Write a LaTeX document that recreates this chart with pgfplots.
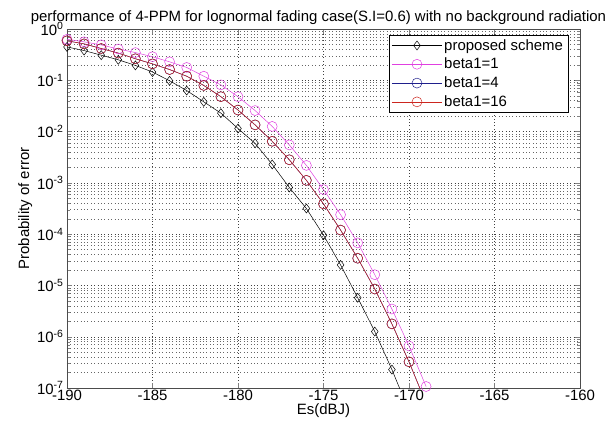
\documentclass[border=0pt]{standalone}
\usepackage{fontspec}
\setmainfont{Liberation Sans}
\usepackage{pgfplots}
\pgfplotsset{compat=1.18}
\newcommand\mf{\fontsize{15}{17}\selectfont}
\definecolor{mmag}{rgb}{0.88,0.25,0.88}
\definecolor{mblue}{rgb}{0.12,0.12,0.55}
\definecolor{mred}{rgb}{0.8,0.15,0.12}
\begin{document}
\begin{tikzpicture}
\useasboundingbox (-67bp,-39bp) rectangle (549bp,388bp);
\begin{axis}[
  at={(0,0)}, anchor=south west,
  scale only axis, width=513bp, height=359bp,
  xmin=-190, xmax=-160, ymin=1e-7, ymax=1, ymode=log,
  xtick={-190,-185,...,-160},
  ytick={1e-7,1e-6,1e-5,1e-4,1e-3,1e-2,1e-1,1},
  yticklabels={10\textsuperscript{-7},10\textsuperscript{-6},10\textsuperscript{-5},10\textsuperscript{-4},10\textsuperscript{-3},10\textsuperscript{-2},10\textsuperscript{-1},10\textsuperscript{0}},
  minor ytick={2e-7,3e-7,4e-7,5e-7,6e-7,7e-7,8e-7,9e-7,
               2e-6,3e-6,4e-6,5e-6,6e-6,7e-6,8e-6,9e-6,
               2e-5,3e-5,4e-5,5e-5,6e-5,7e-5,8e-5,9e-5,
               2e-4,3e-4,4e-4,5e-4,6e-4,7e-4,8e-4,9e-4,
               2e-3,3e-3,4e-3,5e-3,6e-3,7e-3,8e-3,9e-3,
               2e-2,3e-2,4e-2,5e-2,6e-2,7e-2,8e-2,9e-2,
               0.2,0.3,0.4,0.5,0.6,0.7,0.8,0.9},
  /pgf/number format/assume math mode=true,
  tick label style={font=\mf},
  xticklabel style={yshift=1bp},
  xtick pos=both, ytick pos=both,
  tick align=inside,
  major tick length=5bp, minor tick length=3bp,
  grid=both,
  major grid style={black!75, line width=0.4bp, dash pattern=on 0.8bp off 2.6bp},
  minor grid style={black!60, line width=0.4bp, dash pattern=on 0.8bp off 2.6bp},
  axis line style={black!70, line width=0.6bp},
  title={performance of 4-PPM for lognormal fading case(S.I=0.6) with no background radiation},
  title style={font=\mf, yshift=-5bp, xshift=-5bp},
  xlabel={Es(dBJ)}, ylabel={Probability of error},
  label style={font=\mf},
  xlabel style={yshift=4bp},
  ylabel style={yshift=-2bp},
  legend style={at={(0.977,0.983)}, anchor=north east, draw=black, fill=white,
    font=\mf, row sep=2.5bp, inner xsep=3bp, inner ysep=2bp},
  legend cell align=left,
  legend image code/.code={\draw[mark repeat=2,mark phase=2,#1] plot coordinates {(0bp,0bp) (25bp,0bp) (50bp,0bp)};},
]
\addplot[black, line width=0.5bp, mark=diamond, mark size=4.5bp] coordinates {
(-190,0.447) (-189,0.380) (-188,0.309) (-187,0.251) (-186,0.195) (-185,0.145)
(-184,0.0977) (-183,0.0631) (-182,0.0380) (-181,0.0229) (-180,0.01148)
(-179,5.89e-3) (-178,2.29e-3) (-177,8.13e-4) (-176,3.16e-4) (-175,9.55e-5)
(-174,2.51e-5) (-173,5.75e-6) (-172,1.26e-6) (-171,2.29e-7) (-170,3.55e-8)};
\addlegendentry{proposed scheme}
\addplot[mmag, line width=0.5bp, mark=o, mark size=5bp] coordinates {
(-190,0.631) (-189,0.562) (-188,0.490) (-187,0.407) (-186,0.347) (-185,0.288)
(-184,0.229) (-183,0.178) (-182,0.120) (-181,0.0813) (-180,0.0479)
(-179,0.0257) (-178,0.0126) (-177,5.50e-3) (-176,2.19e-3) (-175,7.41e-4)
(-174,2.40e-4) (-173,6.76e-5) (-172,1.62e-5) (-171,3.47e-6) (-170,6.61e-7) (-169,1.07e-7)};
\addlegendentry{beta1=1}
\addplot[mblue, line width=0.5bp, mark=o, mark size=5bp] coordinates {
(-190,0.589) (-189,0.513) (-188,0.417) (-187,0.339) (-186,0.263) (-185,0.209)
(-184,0.162) (-183,0.120) (-182,0.0794) (-181,0.0479) (-180,0.0263)
(-179,0.0135) (-178,6.46e-3) (-177,2.82e-3) (-176,1.12e-3) (-175,3.89e-4)
(-174,1.20e-4) (-173,3.39e-5) (-172,8.51e-6) (-171,1.78e-6) (-170,3.24e-7) (-169,5.0e-8)};
\addlegendentry{beta1=4}
\addplot[mred, line width=0.5bp, mark=o, mark size=5bp] coordinates {
(-190,0.589) (-189,0.513) (-188,0.417) (-187,0.339) (-186,0.263) (-185,0.209)
(-184,0.162) (-183,0.120) (-182,0.0794) (-181,0.0479) (-180,0.0263)
(-179,0.0135) (-178,6.46e-3) (-177,2.82e-3) (-176,1.12e-3) (-175,3.89e-4)
(-174,1.20e-4) (-173,3.39e-5) (-172,8.51e-6) (-171,1.78e-6) (-170,3.24e-7) (-169,5.0e-8)};
\addlegendentry{beta1=16}
\end{axis}
\end{tikzpicture}
\end{document}
